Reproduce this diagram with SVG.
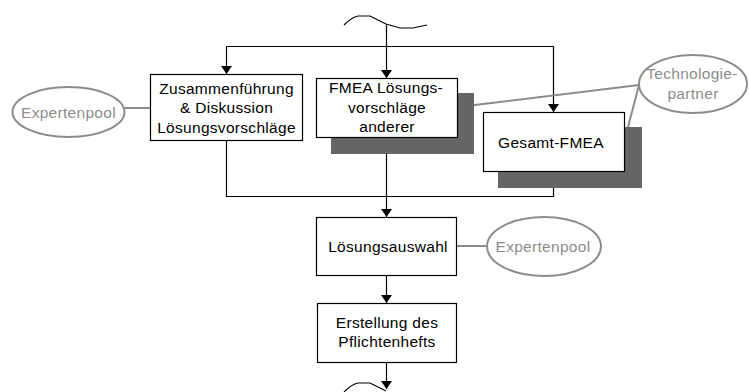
<svg xmlns="http://www.w3.org/2000/svg" width="749" height="392" viewBox="0 0 749 392">
  <style>
    .box { fill: #ffffff; stroke: #000000; stroke-width: 1.2; }
    .shadow { fill: #666666; stroke: none; }
    .flow { fill: none; stroke: #000000; stroke-width: 1.2; }
    .assoc { fill: none; stroke: #8c8c8c; stroke-width: 2; }
    .pool { fill: #ffffff; stroke: #8c8c8c; stroke-width: 2; }
    .lbl { font-family: "Liberation Sans", Arial, sans-serif; font-size: 15.5px; fill: #000000; text-anchor: middle; letter-spacing: 0.3px; }
    .glbl { font-family: "Liberation Sans", Arial, sans-serif; font-size: 15.5px; fill: #8c8c8c; text-anchor: middle; letter-spacing: 0.3px; }
  </style>
  <defs>
    <marker id="arrow" viewBox="0 0 8 11" refX="8" refY="5.5" markerWidth="8" markerHeight="11" markerUnits="userSpaceOnUse" orient="auto">
      <path d="M0,0 L8,5.5 L0,11 Z" fill="#000000"/>
    </marker>
  </defs>

  <rect width="749" height="392" fill="#ffffff"/>

  <!-- connectors -->
  <g id="connectors">
    <!-- incoming break marks -->
    <path class="flow" d="M344,25 Q352,17 358,16 L370,16 L386,24 L400,28 L413,28 L427,25"/>
    <path class="flow" d="M344,392 Q352,384 358,383 L370,383 L386,391"/>
    <!-- split into three parallel branches -->
    <path class="flow" d="M386.5,24 V78" marker-end="url(#arrow)"/>
    <path class="flow" d="M226.5,46.5 H553.5"/>
    <path class="flow" d="M226.5,46.5 V74" marker-end="url(#arrow)"/>
    <path class="flow" d="M553.5,46.5 V112" marker-end="url(#arrow)"/>
    <!-- merge -->
    <path class="flow" d="M226.5,141 V196.5 H553.5 V172"/>
    <path class="flow" d="M386.5,138 V217" marker-end="url(#arrow)"/>
    <path class="flow" d="M386.5,276 V303" marker-end="url(#arrow)"/>
    <path class="flow" d="M386.5,363 V389" marker-end="url(#arrow)"/>
    <!-- resource associations -->
    <path class="assoc" d="M125,108 H150"/>
    <path class="assoc" d="M458,107 L639,85"/>
    <path class="assoc" d="M639,85 L628,127"/>
    <path class="assoc" d="M457,246 H487"/>
  </g>

  <g id="expertenpool-1">
    <ellipse class="pool" cx="68.5" cy="112" rx="56" ry="25"/>
    <text class="glbl" x="68.5" y="117.5">Expertenpool</text>
  </g>

  <g id="zusammenfuehrung">
    <rect class="box" x="150.5" y="74.5" width="152" height="66"/>
    <text class="lbl" x="226.5" y="93.5">Zusammenführung</text>
    <text class="lbl" x="226.5" y="113">&amp; Diskussion</text>
    <text class="lbl" x="226.5" y="132.5">Lösungsvorschläge</text>
  </g>

  <g id="fmea-andere">
    <rect class="shadow" x="331" y="93" width="143" height="61"/>
    <rect class="box" x="316.5" y="78.5" width="141" height="59"/>
    <text class="lbl" x="386" y="92.5">FMEA Lösungs-</text>
    <text class="lbl" x="387" y="112.5">vorschläge</text>
    <text class="lbl" x="387" y="131.5">anderer</text>
  </g>

  <g id="gesamt-fmea">
    <rect class="shadow" x="498" y="127" width="144" height="61"/>
    <rect class="box" x="483.5" y="112.5" width="141" height="59"/>
    <text class="lbl" x="551" y="147.5">Gesamt-FMEA</text>
  </g>

  <g id="technologiepartner">
    <ellipse class="pool" cx="693" cy="84" rx="54" ry="29"/>
    <text class="glbl" x="692" y="78.5">Technologie-</text>
    <text class="glbl" x="693" y="98.5">partner</text>
  </g>

  <g id="loesungsauswahl">
    <rect class="box" x="316.5" y="217.5" width="140" height="58"/>
    <text class="lbl" x="388" y="251.5">Lösungsauswahl</text>
  </g>

  <g id="expertenpool-2">
    <ellipse class="pool" cx="544" cy="246.5" rx="57" ry="29.5"/>
    <text class="glbl" x="543" y="252">Expertenpool</text>
  </g>

  <g id="pflichtenheft">
    <rect class="box" x="317.5" y="303.5" width="139" height="59"/>
    <text class="lbl" x="387" y="327.5">Erstellung des</text>
    <text class="lbl" x="387" y="346.5">Pflichtenhefts</text>
  </g>
</svg>
